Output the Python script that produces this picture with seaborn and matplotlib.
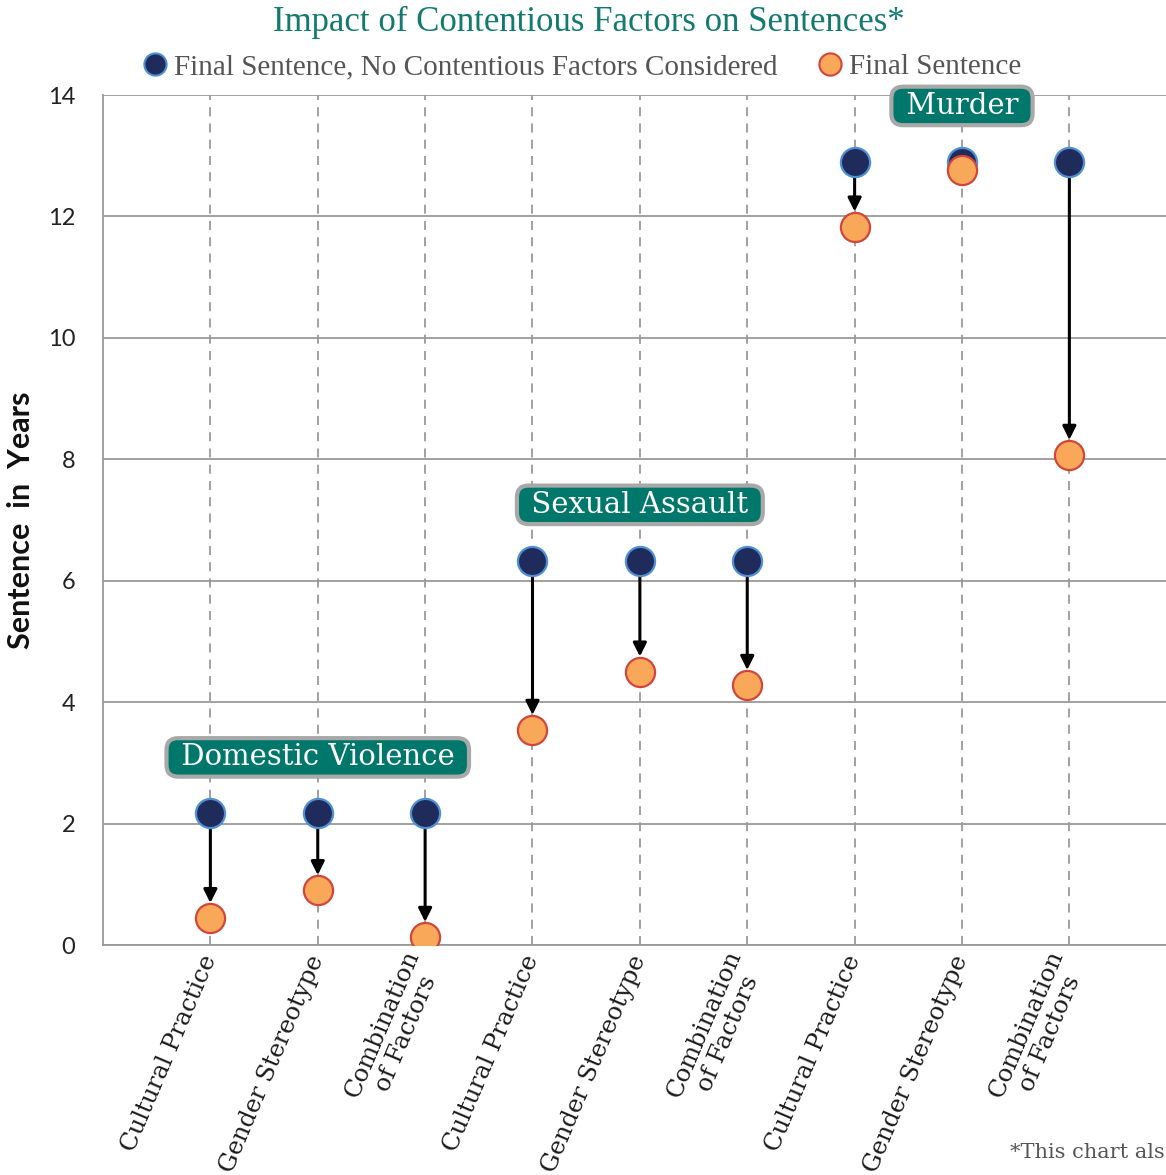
import numpy as np
import pandas as pd
import seaborn as sns
import matplotlib.pyplot as plt
from matplotlib.lines import Line2D

# ---- data ----
groups = ["Domestic Violence"] * 3 + ["Sexual Assault"] * 3 + ["Murder"] * 3
factors = ["Cultural Practice", "Gender Stereotype", "Combination\nof Factors"] * 3
no_factor = [2.17, 2.17, 2.17, 6.33, 6.33, 6.33, 12.90, 12.90, 12.90]
final = [0.44, 0.90, 0.13, 3.54, 4.50, 4.28, 11.83, 12.77, 8.07]
y_ticks = [0, 2, 4, 6, 8, 10, 12, 14]

title = "Impact of Contentious Factors on Sentences*"
legend_labels = ["Final Sentence, No Contentious Factors Considered", "Final Sentence"]
ylabel = "Sentence  in  Years"
footnote = "*This chart als"

# ---- style ----
NAVY, NAVY_EDGE = "#1f2b5b", "#4f8fd4"
ORANGE, ORANGE_EDGE = "#f9a758", "#d2453a"
TEAL = "#00776b"
GRID = "#9a9a9a"

sns.set_theme(style="white")
plt.rcParams["font.family"] = ["DejaVu Serif"]

pos = np.arange(1, len(factors) + 1)
df = pd.DataFrame({"pos": pos, "group": groups, "factor": factors,
                   "no_factor": no_factor, "final": final})

fig = plt.figure(figsize=(11.66, 11.75), dpi=100)
ax = fig.add_axes([103 / 1166, 1 - 945 / 1175, 1063 / 1166, 850 / 1175])

# arrows (behind markers)
for _, r in df.iterrows():
    if r["no_factor"] - r["final"] > 0.5:
        ax.annotate("", xy=(r["pos"], r["final"]), xytext=(r["pos"], r["no_factor"]),
                    arrowprops=dict(arrowstyle="-|>", color="black", lw=2.2,
                                    shrinkA=10, shrinkB=11, mutation_scale=20),
                    zorder=2)

sns.scatterplot(data=df, x="pos", y="no_factor", ax=ax, s=440, color=NAVY,
                edgecolor=NAVY_EDGE, linewidth=1.6, zorder=3, legend=False)
sns.scatterplot(data=df, x="pos", y="final", ax=ax, s=440, color=ORANGE,
                edgecolor=ORANGE_EDGE, linewidth=1.6, zorder=4, legend=False)

ax.set_xlim(0, 9.9)
ax.set_ylim(0, 14)
ax.set_xticks(pos)
ax.set_xticklabels(df["factor"], rotation=67, ha="right", va="center",
                   rotation_mode="anchor", fontsize=17.5, multialignment="center",
                   color="#1a1a1a", linespacing=1.15)
ax.set_yticks(y_ticks)
ax.set_yticklabels([str(v) for v in y_ticks], fontsize=17, family="Lato", color="#222222")
ax.tick_params(axis="y", length=0, pad=20)
ax.tick_params(axis="x", length=0, pad=8)
ax.set_xlabel("")
ax.set_ylabel(ylabel, fontsize=22, fontweight="bold", family="Lato", color="#111111")
ax.yaxis.set_label_coords(-0.064, 0.5)

ax.yaxis.grid(True, color=GRID, lw=1.3, ls="-")
ax.xaxis.grid(True, color=GRID, lw=1.3, ls=(0, (5, 4)))
ax.set_axisbelow(True)
for s in ["top", "right"]:
    ax.spines[s].set_visible(False)
for s in ["left", "bottom"]:
    ax.spines[s].set_color(GRID)
    ax.spines[s].set_linewidth(1.3)

# group labels
for g in dict.fromkeys(groups):
    sub = df[df["group"] == g]
    xc = sub["pos"].mean()
    yc = sub["no_factor"].max() + 0.92
    ax.text(xc, yc, " " + g + " ", ha="center", va="center", fontsize=21, color="white",
            zorder=6,
            bbox=dict(boxstyle="round,pad=0.18,rounding_size=0.4", fc=TEAL,
                      ec="#a8a8a8", lw=3))

# title & legend
fig.text(0.505, 1 - 22 / 1175, title, ha="center", va="center", fontsize=25,
         color="#127a6e", family="Liberation Serif")
handles = [Line2D([], [], ls="", marker="o", ms=16, mfc=NAVY, mec=NAVY_EDGE, mew=1.5),
           Line2D([], [], ls="", marker="o", ms=16, mfc=ORANGE, mec=ORANGE_EDGE, mew=1.5)]
fig.legend(handles, legend_labels, loc="center", bbox_to_anchor=(0.492, 1 - 67 / 1175),
           ncol=2, frameon=False, handletextpad=-0.35, columnspacing=0.8,
           prop=dict(family="Liberation Serif", size=21), labelcolor="#555555")

fig.text(1010 / 1166, 1 - 1152 / 1175, footnote, ha="left", va="center",
         fontsize=15, color="#555555")

fig.savefig("out.png", dpi=100)
